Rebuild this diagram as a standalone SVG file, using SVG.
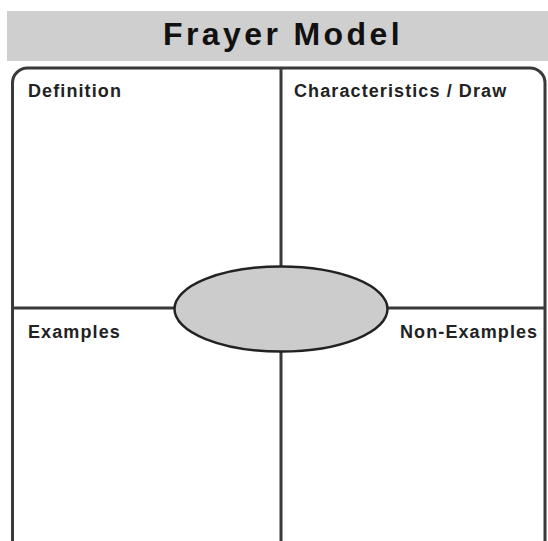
<svg xmlns="http://www.w3.org/2000/svg" width="548" height="541" viewBox="0 0 548 541">
<style>
.lbl{font-family:"Liberation Sans",Arial,sans-serif;font-weight:bold;font-size:18px;letter-spacing:1.1px;fill:#222}
.title{font-family:"Liberation Sans",Arial,sans-serif;font-weight:bold;font-size:32px;letter-spacing:3.4px;fill:#111}
.ln{stroke:#3a3a3a;stroke-width:3;fill:none}
</style>
<rect width="548" height="541" fill="#ffffff"/>
<g id="header">
<rect x="7" y="11" width="541" height="50" fill="#cfcfcf"/>
<text class="title" x="283" y="45" text-anchor="middle">Frayer Model</text>
</g>
<g id="frame">
<rect class="ln" x="12.5" y="68" width="532.5" height="500" rx="15" ry="15"/>
</g>
<g id="connectors">
<line class="ln" x1="281" y1="68" x2="281" y2="541"/>
<line class="ln" x1="12.5" y1="308" x2="545" y2="308"/>
</g>
<g id="definition"><text class="lbl" x="28" y="97">Definition</text></g>
<g id="characteristics"><text class="lbl" x="294" y="97">Characteristics / Draw</text></g>
<g id="examples"><text class="lbl" x="28" y="338">Examples</text></g>
<g id="non-examples"><text class="lbl" x="400" y="338">Non-Examples</text></g>
<g id="center"><ellipse cx="281" cy="309" rx="106.5" ry="42.5" fill="#cccccc" stroke="#222" stroke-width="2.5"/></g>
</svg>
